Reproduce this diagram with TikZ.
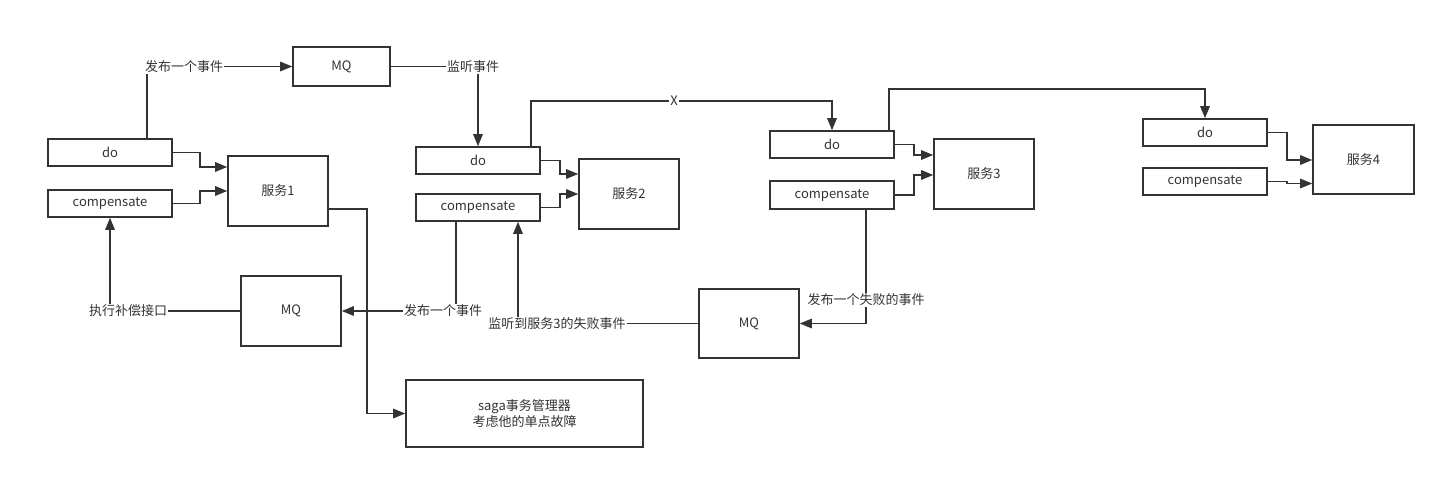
\documentclass[tikz,border=0pt]{standalone}
\usepackage{fontspec}
\setmainfont{Noto Sans CJK SC}
\usetikzlibrary{arrows.meta}
\definecolor{ln}{HTML}{333333}
\newcommand\fs{\fontsize{13}{16}\selectfont}
\begin{document}
\begin{tikzpicture}[x=1pt,y=-1pt,
  box/.style={draw=ln,line width=1.6pt,fill=white,inner sep=0pt,text=ln,font=\fs,align=center},
  lab/.style={fill=white,inner sep=1pt,text=ln,font=\fs},
  edge/.style={draw=ln,line width=1.5pt},
  arr/.style={edge,-{Triangle[length=12pt,width=9.5pt]}}]
\useasboundingbox[fill=white] (0,0) rectangle (1446,480);

% service 1
\node[box,minimum width=124,minimum height=27] (do1) at (110,152.5) {do};
\node[box,minimum width=124,minimum height=27] (comp1) at (110,203.5) {compensate};
\node[box,minimum width=100,minimum height=70] (s1) at (278,191) {服务1};
\node[box,minimum width=97,minimum height=39] (mqtop) at (341.5,66.5) {MQ};
% service 2
\node[box,minimum width=124,minimum height=27] (do2) at (478,160.5) {do};
\node[box,minimum width=124,minimum height=27] (comp2) at (478,207.5) {compensate};
\node[box,minimum width=100,minimum height=70] (s2) at (629,194) {服务2};
% service 3
\node[box,minimum width=124,minimum height=27] (do3) at (832,144.5) {do};
\node[box,minimum width=124,minimum height=28] (comp3) at (832,195) {compensate};
\node[box,minimum width=100,minimum height=70] (s3) at (984,174) {服务3};
% service 4
\node[box,minimum width=124,minimum height=27] (do4) at (1205,132.5) {do};
\node[box,minimum width=124,minimum height=27] (comp4) at (1205,181.5) {compensate};
\node[box,minimum width=101,minimum height=69] (s4) at (1363.5,159.5) {服务4};
% bottom
\node[box,minimum width=100,minimum height=70] (mq1) at (291,311) {MQ};
\node[box,minimum width=100,minimum height=69] (mq2) at (749,323.5) {MQ};
\node[box,minimum width=237,minimum height=67] (saga) at (524.5,413.5) {saga事务管理器\\考虑他的单点故障};

% edges into services
\draw[arr] (do1.east) -| (200,167) -- (s1.west |- 200,167);
\draw[arr] (comp1.east) -| (200,191) -- (s1.west);
\draw[arr] (do2.east) -| (560,174) -- (s2.west |- 560,174);
\draw[arr] (comp2.east) -| (560,194) -- (s2.west);
\draw[arr] (do3.east) -| (914,155) -- (s3.west |- 914,155);
\draw[arr] (comp3.east) -| (914,175) -- (s3.west |- 914,175);
\draw[arr] (do4.east) -| (1287,160) -- (s4.west |- 1287,160);
\draw[arr] (comp4.east) -- (1287,181.5) -- (1287,183.5) -- (s4.west |- 1287,183.5);

% top flow
\draw[arr] ([xshift=37pt]do1.north) |- (mqtop.west);
\draw[arr] (mqtop.east) -| (do2.north);
\draw[arr] ([xshift=53pt]do2.north) |- (832,101) -- (do3.north);
\draw[arr] ([xshift=57pt]do3.north) |- (1205,89) -- (do4.north);

% bottom flow
\draw[arr] (mq1.west) -| (comp1.south);
\draw[arr] ([xshift=-22pt]comp2.south) |- (mq1.east);
\draw[arr] (s1.east |- 328,209) -| (367,413.5) -- (saga.west);
\draw[arr] ([xshift=34pt]comp3.south) |- (mq2.east);
\draw[arr] (mq2.west) -| ([xshift=40pt]comp2.south);

% labels
\node[lab] (l1) at (184,66.5) {发布一个事件};
\node[lab] (l2) at (473,66.5) {监听事件};
\node[lab] (l3) at (674,101) {X};
\node[lab] (l4) at (128,311) {执行补偿接口};
\node[lab] (l5) at (443,311) {发布一个事件};
\node[lab] (l6) at (866,300) {发布一个失败的事件};
\node[lab] (l7) at (557,324) {监听到服务3的失败事件};
\end{tikzpicture}
\end{document}
